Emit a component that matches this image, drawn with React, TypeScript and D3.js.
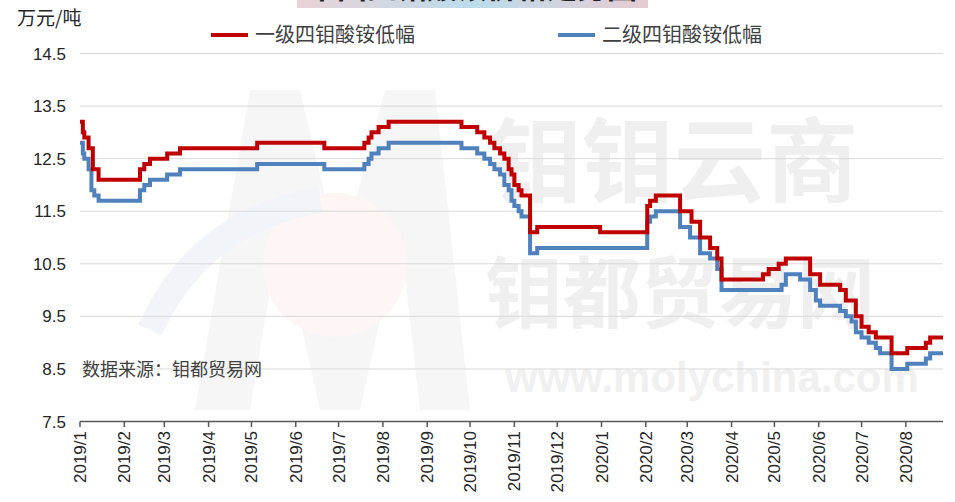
import React from "react";
import * as d3 from "d3";

const redDates = ["2019-01-01","2019-01-03","2019-01-04","2019-01-07","2019-01-10","2019-01-14","2019-02-12","2019-02-15","2019-02-19","2019-03-03","2019-03-12","2019-05-05","2019-06-21","2019-07-19","2019-07-22","2019-07-24","2019-07-29","2019-08-05","2019-09-25","2019-10-06","2019-10-11","2019-10-15","2019-10-18","2019-10-22","2019-10-25","2019-10-28","2019-10-30","2019-11-01","2019-11-04","2019-11-06","2019-11-12","2019-11-17","2019-12-31","2020-02-02","2020-02-04","2020-02-08","2020-02-25","2020-03-04","2020-03-10","2020-03-17","2020-03-22","2020-03-25","2020-04-23","2020-04-27","2020-05-04","2020-05-09","2020-05-26","2020-06-02","2020-06-16","2020-06-20","2020-06-27","2020-07-01","2020-07-06","2020-07-11","2020-07-22","2020-08-02","2020-08-15","2020-08-18","2020-08-27"];
const redValues = [13.2,13.0,12.9,12.7,12.3,12.1,12.3,12.4,12.5,12.6,12.7,12.8,12.7,12.8,12.9,13.0,13.1,13.2,13.1,13.0,12.9,12.8,12.7,12.6,12.5,12.3,12.2,12.0,11.9,11.8,11.1,11.2,11.1,11.6,11.7,11.8,11.5,11.3,11.0,10.8,10.6,10.2,10.3,10.4,10.5,10.6,10.3,10.1,10.0,9.8,9.5,9.3,9.2,9.1,8.8,8.9,9.0,9.1,9.1];

const blueDates = ["2019-01-01","2019-01-03","2019-01-04","2019-01-07","2019-01-09","2019-01-11","2019-01-14","2019-02-12","2019-02-15","2019-02-19","2019-03-03","2019-03-12","2019-05-05","2019-06-21","2019-07-19","2019-07-22","2019-07-24","2019-07-29","2019-08-05","2019-09-25","2019-10-06","2019-10-11","2019-10-15","2019-10-18","2019-10-22","2019-10-25","2019-10-28","2019-10-30","2019-11-01","2019-11-04","2019-11-06","2019-11-12","2019-11-17","2020-02-02","2020-02-04","2020-02-08","2020-02-25","2020-03-03","2020-03-10","2020-03-17","2020-03-22","2020-03-25","2020-05-06","2020-05-09","2020-05-19","2020-05-26","2020-05-30","2020-06-02","2020-06-16","2020-06-20","2020-06-24","2020-06-27","2020-07-01","2020-07-06","2020-07-11","2020-07-14","2020-07-22","2020-08-02","2020-08-15","2020-08-18","2020-08-27"];
const blueValues = [12.8,12.6,12.5,12.3,11.9,11.8,11.7,11.9,12.0,12.1,12.2,12.3,12.4,12.3,12.4,12.5,12.6,12.7,12.8,12.7,12.6,12.5,12.4,12.3,12.2,12.0,11.9,11.7,11.6,11.5,11.4,10.7,10.8,11.3,11.4,11.5,11.2,11.0,10.7,10.6,10.4,10.0,10.1,10.3,10.2,10.0,9.8,9.7,9.6,9.5,9.4,9.2,9.1,9.0,8.9,8.8,8.5,8.6,8.7,8.8,8.8];

const seriesNames = ["一级四钼酸铵低幅", "二级四钼酸铵低幅"];
const yTicks = [7.5, 8.5, 9.5, 10.5, 11.5, 12.5, 13.5, 14.5];
const monthTicks = ["2019/1","2019/2","2019/3","2019/4","2019/5","2019/6","2019/7","2019/8","2019/9","2019/10","2019/11","2019/12","2020/1","2020/2","2020/3","2020/4","2020/5","2020/6","2020/7","2020/8"];

const W = 955, H = 502;
const parse = d3.timeParse("%Y-%m-%d");
const parseM = d3.timeParse("%Y/%m");

export default function App() {
  const x = d3.scaleTime().domain([parse("2019-01-01")!, parse("2020-08-27")!]).range([80, 943]);
  const y = d3.scaleLinear().domain([7.5, 14.5]).range([421.5, 53.5]);
  const line = d3.line<[Date, number]>().x(d => x(d[0])).y(d => y(d[1])).curve(d3.curveStepAfter);
  const red: [Date, number][] = redDates.map((d, i) => [parse(d)!, redValues[i]]);
  const blue: [Date, number][] = blueDates.map((d, i) => [parse(d)!, blueValues[i]]);
  const cjk = "'Noto Sans CJK SC', sans-serif";
  const num = "'Liberation Sans', Arial, sans-serif";
  return (
    <svg width={W} height={H} style={{ position: "absolute", left: 0, top: 0, background: "#fff" }}>
      <defs>
        <linearGradient id="tg" x1="0" x2="1" y1="0" y2="0">
          <stop offset="0" stopColor="#e9d3d8" />
          <stop offset="0.5" stopColor="#bcdceb" />
          <stop offset="1" stopColor="#e6ccd2" />
        </linearGradient>
      </defs>
      <rect x={0} y={0} width={W} height={H} fill="#fff" />
      {/* watermark logo */}
      <g>
        <path d="M195,410 L250,90 L300,90 L340,260 L385,90 L435,90 L470,410 L420,410 L400,230 L360,410 L320,410 L280,230 L250,410 Z" fill="#f6f6f7" />
        <circle cx={335} cy={265} r={72} fill="#fdf6f4" />
        <path d="M150,330 Q200,220 320,200" stroke="#f1f5fa" strokeWidth={26} fill="none" />
        <text x={490} y={195} fontFamily={cjk} fontWeight="bold" fontSize={92} fill="#efefef">钼钼云商</text>
        <text x={485} y={322} fontFamily={cjk} fontWeight="bold" fontSize={78} fill="#efefef">钼都贸易网</text>
        <text x={505} y={392} fontFamily={num} fontWeight="bold" fontSize={42} fill="#f0f0f0">www.molychina.com</text>
      </g>
      {/* title remnant */}
      <rect x={297} y={0} width={351} height={8} fill="url(#tg)" />
      <text x={472} y={-2} textAnchor="middle" fontFamily={cjk} fontWeight="bold" fontSize={30} fill="#222">中国四钼酸铵价格走势图</text>
      {/* gridlines */}
      {yTicks.slice(1).map(t => (
        <line key={t} x1={80} x2={943} y1={y(t)} y2={y(t)} stroke="#d9d9d9" strokeWidth={1} />
      ))}
      {/* y labels */}
      {yTicks.map(t => (
        <text key={t} x={66} y={y(t) + 6} textAnchor="end" fontFamily={num} fontSize={17} fill="#262626">{t.toFixed(1)}</text>
      ))}
      <text x={17} y={25} fontFamily={cjk} fontSize={19} fill="#262626">万元/吨</text>
      {/* source */}
      <text x={82} y={376} fontFamily={cjk} fontSize={18} fill="#404040">数据来源：钼都贸易网</text>
      {/* x axis */}
      <line x1={80} x2={943} y1={421.5} y2={421.5} stroke="#595959" strokeWidth={1.5} />
      {monthTicks.map(m => {
        const px = x(parseM(m)!);
        return (
          <g key={m}>
            <line x1={px} x2={px} y1={421.5} y2={427} stroke="#595959" strokeWidth={1.5} />
            <text transform={`translate(${px + 6},${431}) rotate(-90)`} textAnchor="end" fontFamily={num} fontSize={17} fill="#262626">{m}</text>
          </g>
        );
      })}
      {/* lines */}
      <path d={line(blue)!} fill="none" stroke="#4f81bd" strokeWidth={4} />
      <path d={line(red)!} fill="none" stroke="#c00000" strokeWidth={4} />
      {/* legend */}
      <line x1={211} x2={248} y1={35} y2={35} stroke="#c00000" strokeWidth={4} />
      <text x={255} y={42} fontFamily={cjk} fontSize={20} fill="#404040">{seriesNames[0]}</text>
      <line x1={558} x2={595} y1={35} y2={35} stroke="#4f81bd" strokeWidth={4} />
      <text x={602} y={42} fontFamily={cjk} fontSize={20} fill="#404040">{seriesNames[1]}</text>
    </svg>
  );
}
